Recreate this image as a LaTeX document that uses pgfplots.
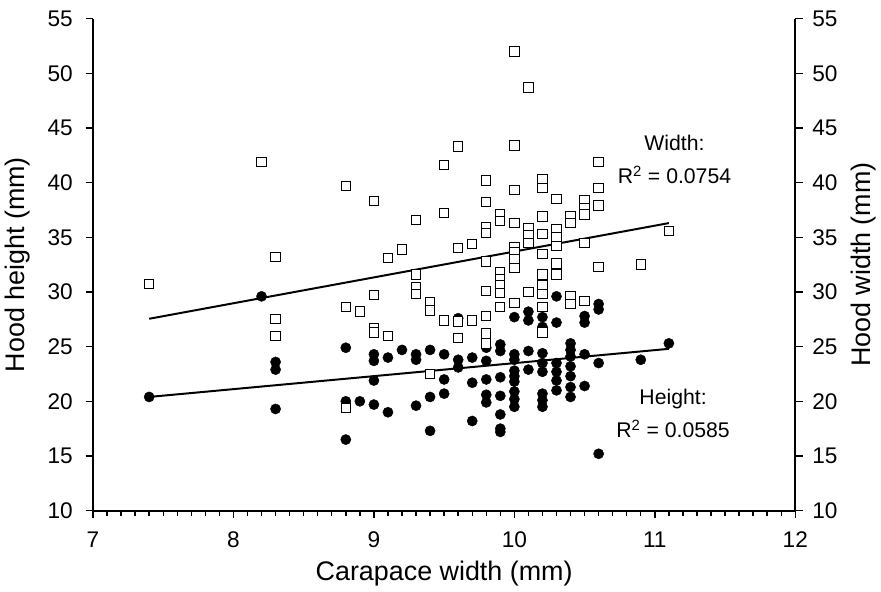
\documentclass[border=0pt]{standalone}
\usepackage{fontspec}
\setmainfont{Liberation Sans}
\usepackage{pgfplots}
\usepackage{pgfplotstable}
\pgfplotsset{compat=1.18}

% hood height (filled circles)
\pgfplotstableread{
x y
7.4 20.4
8.2 29.6
8.3 23.6
8.3 22.9
8.3 19.3
8.8 24.9
8.8 20.0
8.8 16.5
8.9 20.0
9.0 24.3
9.0 23.7
9.0 21.9
9.0 19.7
9.1 24.0
9.1 19.0
9.2 24.7
9.3 24.3
9.3 23.8
9.3 19.6
9.4 24.7
9.4 20.4
9.4 17.3
9.5 24.3
9.5 22.0
9.5 20.7
9.6 27.6
9.6 23.8
9.6 23.1
9.7 24.0
9.7 21.7
9.7 18.2
9.8 24.9
9.8 23.7
9.8 22.0
9.8 20.6
9.8 19.9
9.9 25.2
9.9 24.6
9.9 22.2
9.9 20.5
9.9 18.8
9.9 17.5
9.9 17.2
10.0 27.7
10.0 24.3
10.0 23.8
10.0 22.8
10.0 22.3
10.0 21.8
10.0 20.9
10.0 20.2
10.0 19.5
10.1 28.2
10.1 27.4
10.1 24.6
10.1 22.9
10.2 27.7
10.2 26.8
10.2 24.4
10.2 23.5
10.2 22.7
10.2 20.7
10.2 20.1
10.2 19.5
10.3 29.6
10.3 27.2
10.3 23.5
10.3 22.7
10.3 21.9
10.3 21.0
10.4 25.3
10.4 24.7
10.4 24.1
10.4 23.2
10.4 22.3
10.4 21.3
10.4 20.4
10.5 27.8
10.5 27.2
10.5 24.3
10.5 21.4
10.6 28.9
10.6 28.4
10.6 23.5
10.6 15.2
10.9 23.8
11.1 25.3
}\heighttable

% hood width (open squares)
\pgfplotstableread{
x y
7.4 30.7
8.2 41.9
8.3 33.2
8.3 27.5
8.3 26.0
8.8 39.7
8.8 28.6
8.8 19.4
8.9 28.2
9.0 38.3
9.0 29.7
9.0 26.7
9.0 26.3
9.1 33.1
9.1 26.0
9.2 33.9
9.3 36.6
9.3 31.6
9.3 30.4
9.3 29.8
9.4 29.1
9.4 28.3
9.4 22.5
9.5 41.6
9.5 37.2
9.5 27.4
9.6 43.3
9.6 34.0
9.6 27.3
9.6 25.8
9.7 34.4
9.7 27.4
9.8 40.2
9.8 38.2
9.8 35.9
9.8 35.4
9.8 32.8
9.8 30.1
9.8 27.8
9.8 26.2
9.8 25.3
9.9 37.1
9.9 36.5
9.9 31.8
9.9 31.2
9.9 30.6
9.9 29.9
9.9 28.6
10.0 52.0
10.0 43.4
10.0 39.3
10.0 36.3
10.0 34.1
10.0 33.6
10.0 33.0
10.0 32.2
10.0 29.0
10.1 48.7
10.1 35.8
10.1 35.2
10.1 34.5
10.1 30.0
10.2 40.3
10.2 39.5
10.2 36.9
10.2 35.3
10.2 33.5
10.2 31.6
10.2 30.6
10.2 29.8
10.2 28.6
10.2 26.3
10.3 38.5
10.3 35.7
10.3 35.0
10.3 34.2
10.3 32.6
10.3 31.6
10.4 36.9
10.4 36.3
10.4 29.6
10.4 28.9
10.5 38.4
10.5 37.7
10.5 37.1
10.5 34.5
10.5 29.2
10.6 41.9
10.6 39.5
10.6 37.9
10.6 32.3
10.9 32.5
11.1 35.6
}\widthtable

\begin{document}
\begin{tikzpicture}
\pgfplotsset{
  twin/.style={
    scale only axis, width=174.5mm, height=122.25mm,
    xmin=7, xmax=12, ymin=10, ymax=55,
    axis line style={line width=1.4pt},
    tick align=outside,
    major tick length=1.8mm, minor tick length=1.4mm,
    tick style={black, line width=1pt},
    ytick={10,15,...,55},
    tick label style={font=\fontsize{16}{19}\selectfont},
    label style={font=\fontsize{19}{23}\selectfont},
    /pgf/number format/assume math mode=true,
  }
}
\begin{axis}[
  twin,
  axis x line*=bottom, axis y line*=left,
  xtick={7,...,12}, minor x tick num=9,
  xticklabel shift=2.2mm, xlabel shift=1mm,
  yticklabel shift=2mm, ylabel shift=2mm,
  xlabel={Carapace width (mm)}, ylabel={Hood height (mm)},
  clip=false,
]
\addplot[only marks, mark=*, mark size=3.6pt,
  mark options={fill=black, draw=black, line width=0.3pt}]
  table[x=x, y=y] {\heighttable};
\addplot[only marks, mark=square*, mark size=3.3pt,
  mark options={fill=white, draw=black, line width=0.7pt}]
  table[x=x, y=y] {\widthtable};
\addplot[black, line width=1.4pt, mark=none] coordinates {(7.4,27.55) (11.1,36.3)};
\addplot[black, line width=1.4pt, mark=none] coordinates {(7.4,20.4) (11.1,24.8)};
\node[font=\fontsize{15}{18}\selectfont] at (axis cs:11.14,43.6) {Width:};
\node[font=\fontsize{15}{18}\selectfont] at (axis cs:11.14,40.7) {R\textsuperscript{2} = 0.0754};
\node[font=\fontsize{15}{18}\selectfont] at (axis cs:11.13,20.2) {Height:};
\node[font=\fontsize{15}{18}\selectfont] at (axis cs:11.13,17.5) {R\textsuperscript{2} = 0.0585};
\end{axis}
\begin{axis}[
  twin,
  axis x line=none, axis y line*=right,
  yticklabel shift=1.2mm, ylabel shift=1mm,
  ylabel={Hood width (mm)},
]
\end{axis}
% small blank margin above the top tick label
\path ([yshift=1.5mm]current bounding box.north);
\end{tikzpicture}
\end{document}
